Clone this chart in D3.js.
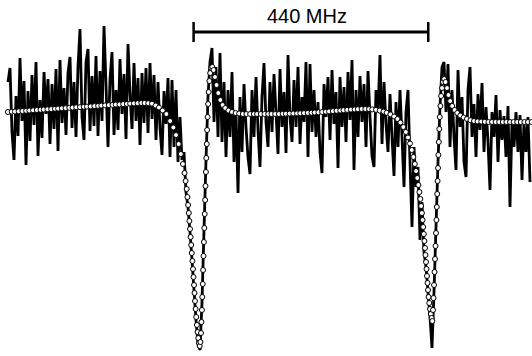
<!DOCTYPE html>
<html>
<head>
<meta charset="utf-8">
<script src="https://cdn.jsdelivr.net/npm/d3@7"></script>
<style>
  html, body { margin: 0; padding: 0; background: #fff; }
  svg { display: block; }
</style>
</head>
<body>
<svg id="chart" width="532" height="356"></svg>
<script>
// Transmission sweep over two resonances (one free spectral range apart),
// measured trace plus fitted lineshape.

// Measured trace: sampled every 3.75 MHz starting at 15 MHz (signal in a.u.)
const traceStartMHz = 15;
const traceStepMHz = 3.75;
const traceSignal = [
  // left baseline
  270, 284, 220, 192, 256, 216, 294, 231, 271, 187,
  261, 211, 277, 227, 290, 196, 252, 214, 280, 238,
  273, 208, 268, 223, 283, 201, 292, 229, 264, 217,
  279, 295, 224, 270, 215, 285, 323, 235, 212, 290,
  303, 221, 276, 226, 296, 216, 281, 231, 326, 267,
  205, 272, 300, 217, 262, 222, 293, 238, 278, 213,
  308, 258, 223, 289, 231, 274, 207, 279, 229, 284,
  219, 289, 233, 277, 212, 270, 224, 197, 261, 228,
  274,
  // first resonance
  195, 272, 205, 262, 190, 235, 192, 200, 160, 145,
  120, 92, 62, 32, 8, 2, 50, 122, 192, 255,
  290, 304, 230, 285, 215, 299, 210, 270, 195, 262,
  215, 280, 190, 240, 159, 255, 200, 268, 225, 195,
  // middle baseline
  178, 262, 215, 275, 222, 185, 255, 289, 230, 205,
  270, 220, 278, 240, 198, 283, 225, 260, 199, 297,
  235, 210, 272, 225, 285, 208, 255, 230, 290, 195,
  288, 220, 262, 215, 250, 200, 179, 268, 235, 275,
  212, 282, 228, 260, 184, 275, 225, 265, 210, 280,
  232, 292, 182, 262, 215, 276, 230, 268, 205, 281,
  235, 196, 185, 262, 240, 297, 208, 270, 228, 200,
  258, 215, 176,
  // second resonance
  250, 205, 262, 215, 165, 240, 262, 190, 125, 205,
  165, 185, 112, 150, 100, 85, 60, 35, 4, 60,
  125, 190, 245, 285, 290, 240, 288,
  // right baseline
  205, 262, 215, 182, 282, 225, 255, 190, 175, 262,
  285, 215, 248, 195, 258, 222, 269, 200, 245, 210,
  162, 240, 215, 257, 190, 242, 212, 236, 195, 246,
  145, 232, 205, 240, 200, 237, 172, 230, 200, 235,
  170
];

// Fitted lineshape, [frequency MHz, signal a.u.]
const fitLeft = [
  [15,240],[22,240.3],[28,240.5],[35,240.7],[42,241],[49,241.2],[55,241.5],[62,241.7],
  [69,242],[76,242.2],[82,242.4],[89,242.7],[96,242.9],[103,243.2],[109,243.4],[116,243.7],
  [123,243.9],[130,244.2],[136,244.4],[143,244.7],[150,244.9],[157,245.2],[163,245.4],
  [170,245.6],[177,245.9],[184,246.1],[190,246.4],[197,246.6],[204,246.9],[211,247.1],
  [217,247.4],[224,247.6],[231,247.9],[238,248.1],[244,248.4],[251,248.6],[258,248.8],
  [265,249],[271,249],[278,248.8],[285,248.3],[292,246.5],[298,244.5],[305,241.5],[312,238]
];
const fitDip1 = [
  [319,231],[325,224.5],[330,217],[335,208],[339,198],[343,188],[346,179],[348,171],
  [350,163],[351.4,155],[352.7,147],[354,139],[355.1,131],[356.3,123],[357.4,115],
  [358.5,107],[359.6,99],[360.8,91],[361.9,83],[362.8,75],[363.8,67],[364.7,59],
  [365.6,51],[366.8,43],[367.9,35],[369.2,27],[370.5,20],[371.8,14],[373.1,9],[374.4,6],
  [375.8,10],[376.9,19],[377.8,30],[378.6,42],[379.3,55],[380.1,68],[380.8,82],
  [381.6,96],[382.3,110],[383.1,124],[383.8,138],[384.6,152],[385.3,166],[386.1,180],
  [386.8,194],[387.6,208],[388.3,222],[389.3,235],[390.2,248],[391.3,260],[392.6,271],
  [394.1,279],[396,284],[398.1,285],[400.3,282],[403.1,275],[406.1,267],[409.3,259],
  [413.1,252],[417.4,247],[422.4,244],[428.4,241.5],[435,240],[441.8,239],[448.5,238.5],
  [455.3,238]
];
const fitMid = [
  [462,238],[469,238],[476,238],[482,238],[489,238],[496,238],[503,238],[509,238],
  [516,238],[523,238],[530,238.2],[536,238.3],[543,238.4],[550,238.5],[557,238.6],
  [563,238.7],[570,238.9],[577,239.1],[584,239.3],[590,239.5],[597,239.7],[604,240],
  [611,240.3],[617,240.6],[624,240.9],[631,241.2],[638,241.5],[644,241.8],[651,242.1],
  [658,242.4],[665,242.6],[671,242.8],[678,243],[685,243],[692,242.9],[698,242.6],
  [705,242.1],[712,241.4],[719,240.4],[725,239.2],[732,237.6],[739,235.5]
];
const fitDip2 = [
  [745.3,233],[750.9,229.5],[756.2,225],[760.9,220],[765,214.5],[768.8,208.5],
  [772.1,202],[775.1,195],[777.8,188],[780.2,181],[782.4,174],[784.5,167],[786.4,160],
  [788.1,153],[789.6,146],[791.1,139],[792.4,132],[793.5,125],[794.6,118],[795.8,111],
  [796.9,104],[797.8,97],[798.8,90],[799.7,83],[800.6,76],[801.6,69],[802.5,62],
  [803.6,55],[804.9,49],[806.3,43],[807.8,38],[809.3,34],[810.6,31],
  [811.9,42],[812.8,54],[813.8,67],[814.7,80],[815.6,93],[816.6,106],[817.5,119],
  [818.3,132],[819,145],[819.8,158],[820.5,171],[821.3,184],[822,197],[822.8,210],
  [823.7,223],[824.6,235],[825.8,246],[827.1,256],[828.8,264],[830.6,270],[832.9,273],
  [835.3,270],[838.1,264],[840.9,257],[844.1,251],[847.9,246],[852.4,242],[857.4,239],
  [863.1,236.5],[869.3,234.5],[875.6,233],[882.2,231.8],[888.8,231]
];
const fitRight = [
  [895.5,230.6],[902.3,230.4],[909,230.2],[915.8,230],[922.5,230],[929.3,230],
  [936,230],[942.8,230],[949.5,230],[956.3,230],[963,230],[969.8,230],[976.5,230],
  [983.3,230],[990,230],[996.8,230]
];

// Scale bar: one free spectral range
const scaleBarStartMHz = 363;
const scaleBarSpanMHz = 440;
const scaleBarLabel = "440 MHz";

const width = 532, height = 356;
const svg = d3.select("#chart");

const x = d3.scaleLinear().domain([0, 997.5]).range([0, width]);
const y = d3.scaleLinear().domain([0, 300]).range([352, 52]);

const trace = traceSignal.map((v, i) => [traceStartMHz + i * traceStepMHz, v]);
const fit = [].concat(fitLeft, fitDip1, fitMid, fitDip2, fitRight);

// Measured trace
svg.append("path")
  .datum(trace)
  .attr("fill", "none")
  .attr("stroke", "#000")
  .attr("stroke-width", 2.8)
  .attr("stroke-linejoin", "miter")
  .attr("d", d3.line().x(d => x(d[0])).y(d => y(d[1])));

// Fit markers
svg.append("g")
  .selectAll("circle")
  .data(fit)
  .join("circle")
  .attr("cx", d => x(d[0]))
  .attr("cy", d => y(d[1]))
  .attr("r", 2.5)
  .attr("fill", "#fff")
  .attr("stroke", "#000")
  .attr("stroke-width", 1);

// Scale bar
const x0 = x(scaleBarStartMHz), x1 = x(scaleBarStartMHz + scaleBarSpanMHz);
const bar = svg.append("g").attr("stroke", "#000");
bar.append("line").attr("x1", x0).attr("x2", x1).attr("y1", 32).attr("y2", 32).attr("stroke-width", 2.8);
bar.append("line").attr("x1", x0).attr("x2", x0).attr("y1", 22).attr("y2", 42).attr("stroke-width", 2.5);
bar.append("line").attr("x1", x1).attr("x2", x1).attr("y1", 22).attr("y2", 42).attr("stroke-width", 2.5);

svg.append("text")
  .attr("x", (x0 + x1) / 2 - 4)
  .attr("y", 22.7)
  .attr("text-anchor", "middle")
  .attr("font-family", "'Liberation Sans', Arial, sans-serif")
  .attr("font-size", 20)
  .attr("fill", "#000")
  .text(scaleBarLabel);
</script>
</body>
</html>
